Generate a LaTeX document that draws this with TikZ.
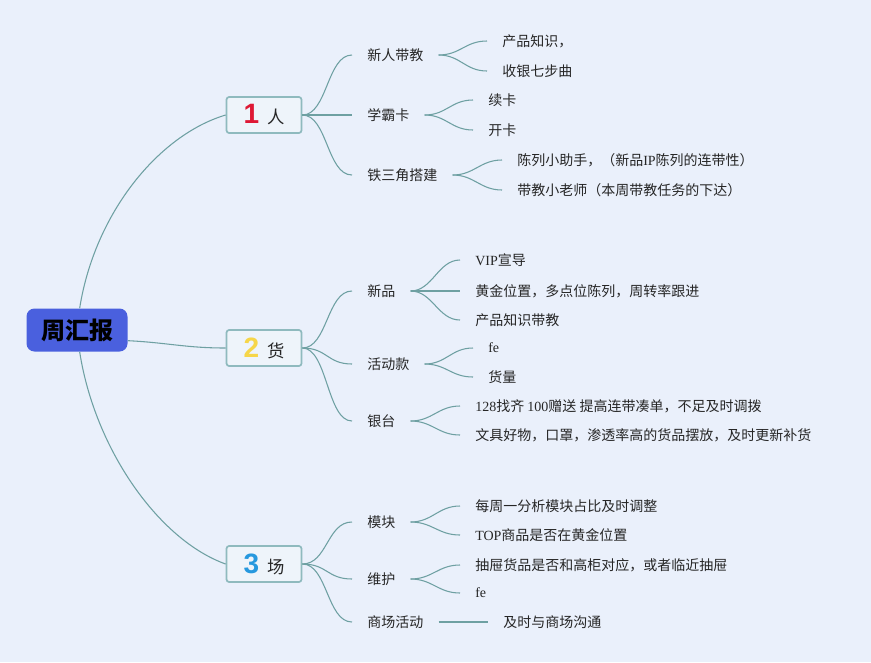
\documentclass[tikz,border=0pt]{standalone}
\usepackage{fontspec}
\setmainfont{Noto Sans CJK SC}
\newfontfamily\latin{Liberation Serif}
\newfontfamily\numfont{Liberation Sans}
\usepackage{xcolor}
\usepackage{tikz}
\usetikzlibrary{positioning}
\definecolor{bgblue}{RGB}{234,240,251}
\definecolor{linkcol}{RGB}{110,160,162}
\definecolor{topicedge}{RGB}{143,186,190}
\definecolor{topicfill}{RGB}{238,244,250}
\definecolor{rootblue}{RGB}{74,96,222}
\definecolor{numred}{RGB}{222,24,52}
\definecolor{numyellow}{RGB}{246,214,72}
\definecolor{numblue}{RGB}{38,152,222}
\tikzset{
    root/.style={rectangle, rounded corners=6pt, fill=rootblue, minimum width=75.75pt, minimum height=32.25pt, font=\bfseries\fontsize{18}{20}\selectfont, text=black},
    topic/.style={rectangle, rounded corners=2pt, draw=topicedge, line width=1.3pt, fill=topicfill, minimum width=56.25pt, minimum height=27pt, font=\fontsize{13}{15}\selectfont, text=black!85},
    sub/.style={anchor=west, inner xsep=11.25pt, inner ysep=2pt, font=\fontsize{10.5}{12}\selectfont, text=black!85},
    leaf/.style={anchor=west, inner xsep=11.25pt, inner ysep=2pt, font=\fontsize{10.5}{12}\selectfont, text=black!85},
    link/.style={draw=linkcol, line width=0.8pt}
}

\begin{document}
\begin{tikzpicture}[x=0.75pt, y=-0.75pt]
        \useasboundingbox (0,0) rectangle (871,662);
        \fill[bgblue] (0,0) rectangle (871,662);

        \node[root] (Root) at (77,330) {周汇报};
        \node[topic] (Ren) at (264,115) {{\numfont\bfseries\fontsize{21}{21}\selectfont\color{numred}1}\hspace{6pt}人};
        \node[topic] (Huo) at (264,348) {{\numfont\bfseries\fontsize{21}{21}\selectfont\color{numyellow}2}\hspace{6pt}货};
        \node[topic] (Chang) at (264,564) {{\numfont\bfseries\fontsize{21}{21}\selectfont\color{numblue}3}\hspace{6pt}场};

        % people
        \node[sub] (XinRen) at (352,55) {新人带教};
        \node[sub] (XueBa) at (352,115) {学霸卡};
        \node[sub] (TieSan) at (352,175) {铁三角搭建};
        \node[leaf] (ChanPin) at (487,41) {产品知识，};
        \node[leaf] (ShouYin) at (487,71) {收银七步曲};
        \node[leaf] (XuKa) at (473,100) {续卡};
        \node[leaf] (KaiKa) at (473,130) {开卡};
        \node[leaf] (ChenLie) at (502,160) {陈列小助手，（新品{\latin IP}陈列的连带性）};
        \node[leaf] (DaiJiao) at (502,190) {带教小老师（本周带教任务的下达）};

        % goods
        \node[sub] (XinPin) at (352,291) {新品};
        \node[sub] (HuoDong) at (352,364) {活动款};
        \node[sub] (YinTai) at (352,421) {银台};
        \node[leaf] (VIP) at (460,260) {{\latin VIP}宣导};
        \node[leaf] (HuangJin) at (460,291) {黄金位置，多点位陈列，周转率跟进};
        \node[leaf] (ZhiShi) at (460,320) {产品知识带教};
        \node[leaf] (FeA) at (473,348) {\latin fe};
        \node[leaf] (HuoLiang) at (473,377) {货量};
        \node[leaf] (ZhaoQi) at (460,406) {{\latin 128}找齐 {\latin 100}赠送 提高连带凑单，不足及时调拨};
        \node[leaf] (WenJu) at (460,435) {文具好物，口罩，渗透率高的货品摆放，及时更新补货};

        % place
        \node[sub] (MoKuai) at (352,522) {模块};
        \node[sub] (WeiHu) at (352,579) {维护};
        \node[sub] (ShangChang) at (352,622) {商场活动};
        \node[leaf] (MeiZhou) at (460,506) {每周一分析模块占比及时调整};
        \node[leaf] (TOP) at (460,535) {{\latin TOP}商品是否在黄金位置};
        \node[leaf] (ChouTi) at (460,565) {抽屉货品是否和高柜对应，或者临近抽屉};
        \node[leaf] (FeB) at (460,593) {\latin fe};
        \node[leaf] (GouTong) at (488,622) {及时与商场沟通};

        \draw[link] ([xshift=2pt]Root.north) .. controls +(15,-95) and +(-67,20) .. (Ren.west);
        \draw[link] ([yshift=-8pt]Root.east) .. controls +(40,2) and +(-40,0) .. (Huo.west);
        \draw[link] ([xshift=2pt]Root.south) .. controls +(15,97) and +(-67,-24) .. (Chang.west);

        \draw[link] (Ren.east) .. controls +(25,0) and +(-25,0) .. (XinRen.west);
        \draw[link] (Ren.east) -- (XueBa.west);
        \draw[link] (Ren.east) .. controls +(25,0) and +(-25,0) .. (TieSan.west);
        \draw[link] (XinRen.east) .. controls +(22,0) and +(-22,0) .. (ChanPin.west);
        \draw[link] (XinRen.east) .. controls +(22,0) and +(-22,0) .. (ShouYin.west);
        \draw[link] (XueBa.east) .. controls +(22,0) and +(-22,0) .. (XuKa.west);
        \draw[link] (XueBa.east) .. controls +(22,0) and +(-22,0) .. (KaiKa.west);
        \draw[link] (TieSan.east) .. controls +(22,0) and +(-22,0) .. (ChenLie.west);
        \draw[link] (TieSan.east) .. controls +(22,0) and +(-22,0) .. (DaiJiao.west);

        \draw[link] (Huo.east) .. controls +(25,0) and +(-25,0) .. (XinPin.west);
        \draw[link] (Huo.east) .. controls +(25,0) and +(-25,0) .. (HuoDong.west);
        \draw[link] (Huo.east) .. controls +(25,0) and +(-25,0) .. (YinTai.west);
        \draw[link] (XinPin.east) .. controls +(22,0) and +(-22,0) .. (VIP.west);
        \draw[link] (XinPin.east) -- (HuangJin.west);
        \draw[link] (XinPin.east) .. controls +(22,0) and +(-22,0) .. (ZhiShi.west);
        \draw[link] (HuoDong.east) .. controls +(22,0) and +(-22,0) .. (FeA.west);
        \draw[link] (HuoDong.east) .. controls +(22,0) and +(-22,0) .. (HuoLiang.west);
        \draw[link] (YinTai.east) .. controls +(22,0) and +(-22,0) .. (ZhaoQi.west);
        \draw[link] (YinTai.east) .. controls +(22,0) and +(-22,0) .. (WenJu.west);

        \draw[link] (Chang.east) .. controls +(25,0) and +(-25,0) .. (MoKuai.west);
        \draw[link] (Chang.east) .. controls +(25,0) and +(-25,0) .. (WeiHu.west);
        \draw[link] (Chang.east) .. controls +(25,0) and +(-25,0) .. (ShangChang.west);
        \draw[link] (MoKuai.east) .. controls +(22,0) and +(-22,0) .. (MeiZhou.west);
        \draw[link] (MoKuai.east) .. controls +(22,0) and +(-22,0) .. (TOP.west);
        \draw[link] (WeiHu.east) .. controls +(22,0) and +(-22,0) .. (ChouTi.west);
        \draw[link] (WeiHu.east) .. controls +(22,0) and +(-22,0) .. (FeB.west);
        % single child, straight
        \draw[link] (ShangChang.east) -- (GouTong.west);
    \end{tikzpicture}
\end{document}
